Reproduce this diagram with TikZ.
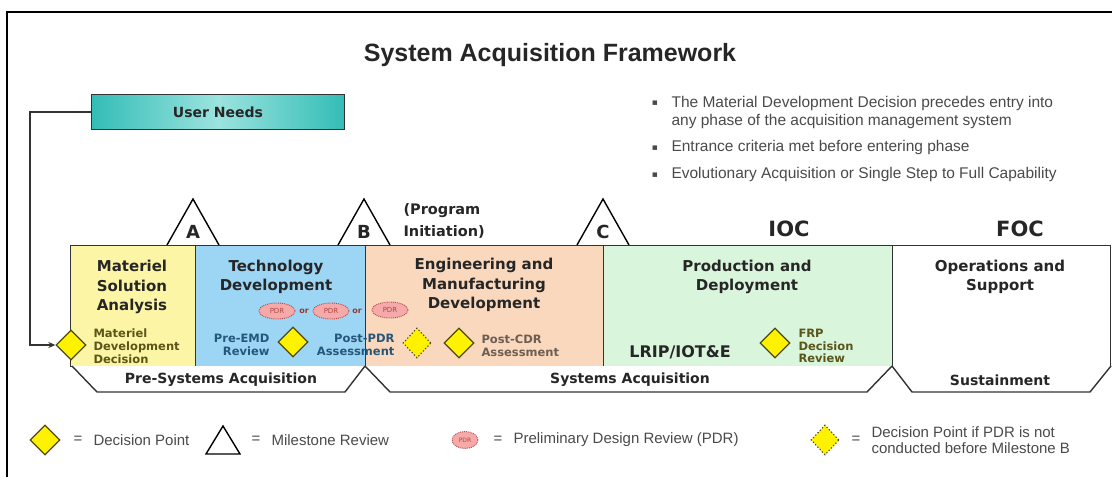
\documentclass[tikz,border=0pt]{standalone}
\usepackage{fontspec}
\setmainfont{Liberation Sans}
\newfontfamily\dejavu{DejaVu Sans}
\usetikzlibrary{shapes.geometric,arrows.meta}

\definecolor{msayellow}{HTML}{FCF5A5}
\definecolor{tdblue}{HTML}{9DD6F5}
\definecolor{emdpeach}{HTML}{F9D8BD}
\definecolor{pdgreen}{HTML}{D9F5DB}
\definecolor{needteal}{HTML}{33BDB6}
\definecolor{needlight}{HTML}{9BE3DF}
\definecolor{dpyellow}{HTML}{FFF200}
\definecolor{dpline}{HTML}{4D4A12}
\definecolor{pdrpink}{HTML}{F5A9A9}
\definecolor{pdrline}{HTML}{B04848}
\definecolor{boxline}{HTML}{333333}
\definecolor{titletxt}{HTML}{262626}
\definecolor{greytxt}{HTML}{4A4A4A}
\definecolor{msatxt}{HTML}{5A5518}
\definecolor{tdtxt}{HTML}{25577A}
\definecolor{emdtxt}{HTML}{6E5E52}

\tikzset{
  phasebox/.style={draw=boxline, line width=1.4pt, anchor=north west, inner sep=0pt, minimum height=121pt},
  phasetitle/.style={font=\dejavu\bfseries\fontsize{15}{19.5}\selectfont, text=titletxt, align=center},
  tabline/.style={draw=boxline, line width=1.4pt, fill=white},
  tabtxt/.style={font=\dejavu\bfseries\fontsize{14}{16}\selectfont, text=titletxt},
  mslabel/.style={font=\dejavu\bfseries\fontsize{18}{20}\selectfont, text=titletxt},
  smalltxt/.style={font=\dejavu\bfseries\fontsize{11.5}{12.8}\selectfont},
  decision/.style={diamond, draw=dpline, line width=1.3pt, fill=dpyellow, aspect=1, inner sep=0pt, minimum size=30pt},
  optdecision/.style={decision, dotted, line width=1.1pt, minimum width=28pt},
  pdr/.style={ellipse, draw=pdrline, densely dotted, line width=0.9pt, fill=pdrpink, inner sep=0pt,
    minimum width=36pt, minimum height=16pt, font=\dejavu\fontsize{7}{8}\selectfont, text=pdrline},
  ortxt/.style={font=\dejavu\bfseries\fontsize{8}{9}\selectfont, text=pdrline!80!black},
  bullettxt/.style={font=\fontsize{15.5}{18}\selectfont, text=greytxt, align=left, anchor=west},
  bulletmark/.style={font=\dejavu\fontsize{9}{10}\selectfont, text=greytxt},
  legendtxt/.style={font=\fontsize{15}{15}\selectfont, text=greytxt},
  conn/.style={draw=boxline, line width=1.3pt}
}

\begin{document}
\begin{tikzpicture}[x=1pt,y=-1pt,>={Stealth[length=7pt,width=6pt]}]
\useasboundingbox (0,0) rectangle (1112,477);

% frame
\draw[line width=2pt] (7,477) -- (7,12) -- (1112,12);

\node[font=\bfseries\fontsize{25}{29}\selectfont, text=titletxt] (title) at (550,55) {System Acquisition Framework};

% user needs
\node[draw=boxline, line width=1.4pt, left color=needteal, right color=needteal, middle color=needlight,
  minimum width=253pt, minimum height=35pt, inner sep=0pt,
  font=\dejavu\bfseries\fontsize{14}{16}\selectfont, text=titletxt] (needs) at (218,112) {User Needs};

% bullets
\node[bulletmark] (m1) at (655,103) {▪};
\node[bullettxt] (b1) at (668,112) {The Material Development Decision precedes entry into\\any phase of the acquisition management system};
\node[bulletmark] (m2) at (655,148) {▪};
\node[bullettxt] (b2) at (668,147) {Entrance criteria met before entering phase};
\node[bulletmark] (m3) at (655,175) {▪};
\node[bullettxt] (b3) at (668,174) {Evolutionary Acquisition or Single Step to Full Capability};

% milestones
\draw[line width=1.4pt, fill=white] (167,245) -- (193,199) -- (219,245);
\node[mslabel] (msA) at (193,232) {A};
\draw[line width=1.4pt, fill=white] (338,245) -- (364,199) -- (390,245);
\node[mslabel] (msB) at (364,232) {B};
\draw[line width=1.4pt, fill=white] (577,245) -- (603,199) -- (629,245);
\node[mslabel] (msC) at (603,232) {C};
\node[phasetitle, align=left, anchor=west, font=\dejavu\bfseries\fontsize{14.5}{22}\selectfont] (progini) at (400,221) {(Program\\Initiation)};
\node[font=\dejavu\bfseries\fontsize{21}{24}\selectfont, text=titletxt] (ioc) at (789,229) {IOC};
\node[font=\dejavu\bfseries\fontsize{21}{24}\selectfont, text=titletxt] (foc) at (1020,229) {FOC};

% phases
\node[phasebox, fill=msayellow, minimum width=125pt] (msa) at (70,245) {};
\node[phasebox, fill=tdblue, minimum width=170pt] (td) at (195,245) {};
\node[phasebox, fill=emdpeach, minimum width=238pt] (emd) at (365,245) {};
\node[phasebox, fill=pdgreen, minimum width=289pt] (pd) at (603,245) {};
\node[phasebox, fill=white, minimum width=218pt] (os) at (892,245) {};
\node[phasetitle] (msatitle) at (132,287) {Materiel\\Solution\\Analysis};
\node[phasetitle] (tdtitle) at (276,277) {Technology\\Development};
\node[phasetitle] (emdtitle) at (484,285) {Engineering and\\Manufacturing\\Development};
\node[phasetitle] (pdtitle) at (747,277) {Production and\\Deployment};
\node[phasetitle] (ostitle) at (1000,277) {Operations and\\Support};

% tabs
\draw[tabline] (72,366) -- (97,392) -- (345,392) -- (365,366);
\node[tabtxt] (presys) at (221,380) {Pre-Systems Acquisition};
\draw[tabline] (365,366) -- (390,392) -- (867,392) -- (892,366);
\node[tabtxt] (sysacq) at (630,380) {Systems Acquisition};
\draw[tabline] (892,366) -- (912,392) -- (1090,392) -- (1111,366);
\node[tabtxt] (sustain) at (1000,380) {Sustainment};

% pdr options
\node[pdr] (pdr1) at (277,311) {PDR};
\node[ortxt] (or1) at (304,311) {or};
\node[pdr] (pdr2) at (331,311) {PDR};
\node[ortxt] (or2) at (357,311) {or};
\node[pdr] (pdr3) at (390,310) {PDR};

% decision points
\node[decision] (mdd) at (71,345) {};
\node[decision] (preemd) at (293,342) {};
\node[optdecision] (postpdr) at (417,343) {};
\node[decision] (postcdr) at (459,343) {};
\node[decision] (frp) at (775,343) {};
\node[smalltxt, text=msatxt, anchor=west, align=left] (mddtxt) at (90,346) {Materiel\\Development\\Decision};
\node[smalltxt, text=tdtxt, anchor=east, align=right] (preemdtxt) at (273,345) {Pre-EMD\\Review};
\node[smalltxt, text=tdtxt, anchor=east, align=right] (postpdrtxt) at (398,345) {Post-PDR\\Assessment};
\node[smalltxt, text=emdtxt, anchor=west, align=left] (postcdrtxt) at (478,346) {Post-CDR\\Assessment};
\node[smalltxt, text=msatxt, anchor=west, align=left] (frptxt) at (795,346) {FRP\\Decision\\Review};
\node[font=\dejavu\bfseries\fontsize{16}{18}\selectfont, text=titletxt] (lrip) at (680,352) {LRIP/IOT\&E};

% user needs feed
\coordinate (turn) at (30,345);
\draw[conn,->] (needs.west) -| (turn) -- (mdd.west);

% legend
\node[decision] (lgdp) at (45,440) {};
\node[legendtxt] (eq1) at (78,440) {=};
\node[legendtxt, anchor=west] (lgdptxt) at (90,440) {Decision Point};
\draw[line width=1.4pt] (206,454) -- (223,426) -- (240,454) -- cycle;
\node[legendtxt] (eq2) at (256,440) {=};
\node[legendtxt, anchor=west] (lgmstxt) at (268,440) {Milestone Review};
\node[pdr, minimum width=26pt, minimum height=17pt, font=\dejavu\fontsize{6}{7}\selectfont] (lgpdr) at (465,440) {PDR};
\node[legendtxt] (eq3) at (498,440) {=};
\node[legendtxt, anchor=west] (lgpdrtxt) at (510,440) {Preliminary Design Review (PDR)};
\node[optdecision] (lgopt) at (825,440) {};
\node[legendtxt] (eq4) at (856,440) {=};
\node[legendtxt, anchor=west, align=left, font=\fontsize{15}{15.5}\selectfont] (lgopttxt) at (868,440) {Decision Point if PDR is not\\conducted before Milestone B};
\end{tikzpicture}
\end{document}
